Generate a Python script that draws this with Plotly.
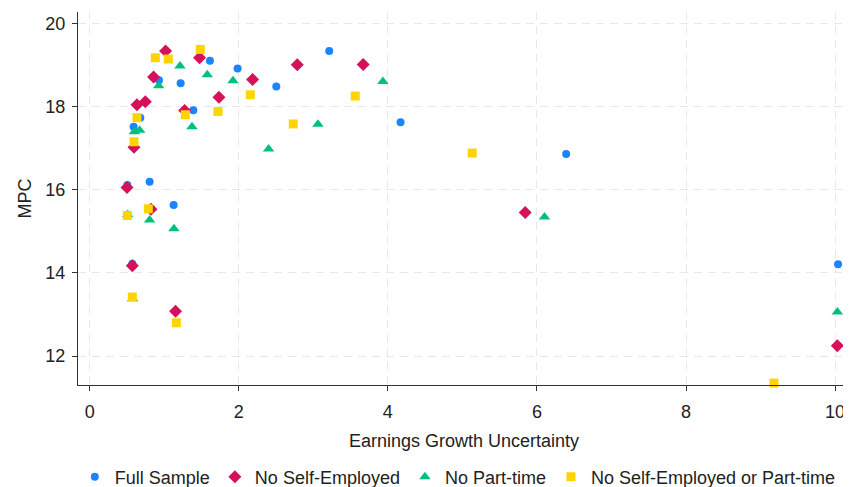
import plotly.graph_objects as go

# Full Sample
full_x = [0.506, 0.573, 0.590, 0.680, 0.805, 0.930, 1.127, 1.221, 1.391, 1.614, 1.985, 2.504, 3.214, 4.171, 6.393, 10.04]
full_y = [16.11, 14.22, 17.51, 17.73, 16.19, 18.63, 15.63, 18.56, 17.91, 19.10, 18.91, 18.48, 19.33, 17.62, 16.86, 14.21]

# No Self-Employed
nse_x = [0.501, 0.573, 0.595, 0.635, 0.747, 0.823, 0.858, 1.019, 1.153, 1.274, 1.475, 1.735, 2.186, 2.785, 3.670, 5.843, 10.03]
nse_y = [16.05, 14.17, 17.02, 18.04, 18.11, 15.53, 18.71, 19.33, 13.08, 17.90, 19.17, 18.22, 18.65, 19.00, 19.01, 15.45, 12.25]

# No Part-time
npt_x = [0.510, 0.577, 0.600, 0.671, 0.805, 0.926, 1.131, 1.212, 1.373, 1.578, 1.923, 2.401, 3.063, 3.934, 6.102, 10.03]
npt_y = [15.40, 13.38, 17.39, 17.43, 15.27, 18.50, 15.06, 18.97, 17.51, 18.76, 18.62, 16.98, 17.57, 18.60, 15.34, 13.06]

# No Self-Employed or Part-time
nsept_x = [0.506, 0.573, 0.595, 0.635, 0.787, 0.881, 1.055, 1.163, 1.283, 1.485, 1.722, 2.155, 2.731, 3.563, 5.132, 9.18]
nsept_y = [15.38, 13.42, 17.15, 17.73, 15.54, 19.17, 19.14, 12.80, 17.80, 19.37, 17.88, 18.28, 17.58, 18.25, 16.88, 11.35]

series_names = ["Full Sample", "No Self-Employed", "No Part-time", "No Self-Employed or Part-time"]
x_ticks = [0, 2, 4, 6, 8, 10]
y_ticks = [12, 14, 16, 18, 20]

colors = ["#1A85FF", "#D41159", "#00BF7F", "#FFD400"]
symbols = ["circle", "diamond", "triangle-up", "square"]
sizes = [8, 10, 10, 9]

fig = go.Figure()
for name, xs, ys, c, s, sz in zip(series_names,
                                  [full_x, nse_x, npt_x, nsept_x],
                                  [full_y, nse_y, npt_y, nsept_y],
                                  colors, symbols, sizes):
    fig.add_trace(go.Scatter(x=xs, y=ys, mode="markers", name=name, cliponaxis=False,
                             marker=dict(color=c, symbol=s, size=sz, line=dict(width=0))))

font_family = "Liberation Sans, Arial, sans-serif"
# page has an 8px body margin, so the figure is sized to fit the window
fig.update_layout(
    width=843, height=479,
    margin=dict(l=70, r=1, t=4, b=102, autoexpand=False),
    paper_bgcolor="white", plot_bgcolor="white",
    font=dict(family=font_family, size=18, color="#222"),
    showlegend=True,
    legend=dict(orientation="h", x=0.492, xanchor="center", y=0.021, yanchor="middle",
                yref="container", font=dict(size=18), itemwidth=30, tracegroupgap=0),
)
axis_common = dict(showline=True, linecolor="#333", linewidth=1.2, ticks="outside", ticklen=5,
                   tickcolor="#333", showgrid=True, gridcolor="#e8e8e8", gridwidth=1.3,
                   griddash="8px,6px", zeroline=False, mirror=False, automargin=False,
                   tickfont=dict(size=18, color="#222"))
fig.update_xaxes(range=[-0.156, 10.2], tickvals=x_ticks, ticklabelstandoff=5,
                 title=dict(text="Earnings Growth Uncertainty", font=dict(size=18), standoff=13),
                 **axis_common)
fig.update_yaxes(range=[11.305, 20.27], tickvals=y_ticks, ticklabelstandoff=3,
                 title=dict(text="MPC", font=dict(size=18), standoff=8),
                 **axis_common)

fig.write_html("out.html")
